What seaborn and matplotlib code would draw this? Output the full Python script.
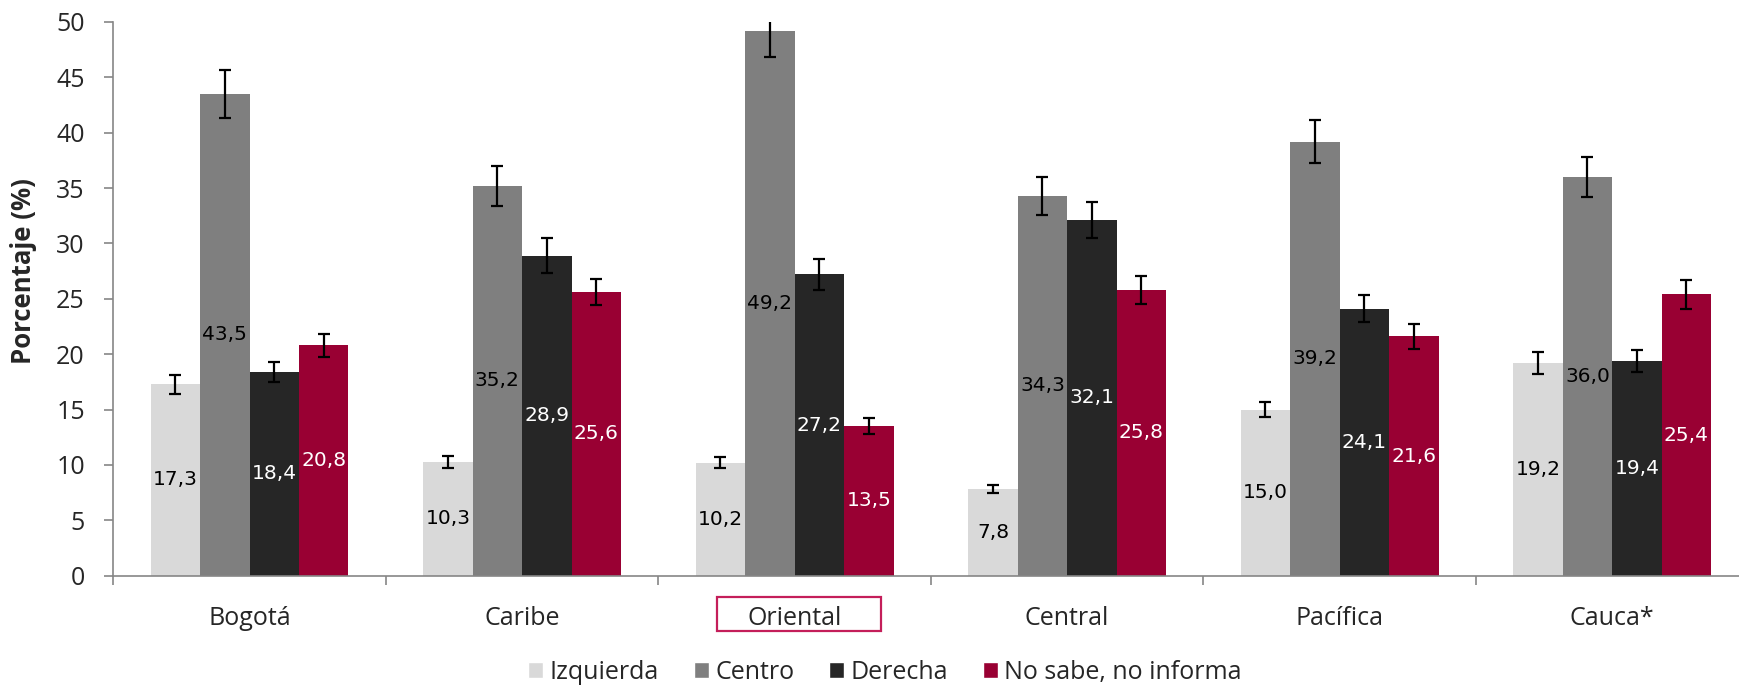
import matplotlib
matplotlib.use('Agg')
import matplotlib.pyplot as plt
import matplotlib.patches as mpatches
import matplotlib.transforms as mtransforms
import pandas as pd
import seaborn as sns

# datos
regiones = ['Bogotá', 'Caribe', 'Oriental', 'Central', 'Pacífica', 'Cauca*']
grupos = ['Izquierda', 'Centro', 'Derecha', 'No sabe, no informa']
izquierda = [17.3, 10.3, 10.2, 7.8, 15.0, 19.2]
centro = [43.5, 35.2, 49.2, 34.3, 39.2, 36.0]
derecha = [18.4, 28.9, 27.2, 32.1, 24.1, 19.4]
no_sabe = [20.8, 25.6, 13.5, 25.8, 21.6, 25.4]
err_izquierda = [0.85, 0.55, 0.52, 0.35, 0.7, 0.98]
err_centro = [2.2, 1.8, 2.4, 1.7, 1.97, 1.8]
err_derecha = [0.93, 1.6, 1.37, 1.6, 1.2, 0.98]
err_no_sabe = [1.03, 1.2, 0.7, 1.3, 1.1, 1.28]

colores = ['#D9D9D9', '#7F7F7F', '#262626', '#990033']
color_etiqueta = ['black', 'black', 'white', 'white']

valores = [izquierda, centro, derecha, no_sabe]
errores = [err_izquierda, err_centro, err_derecha, err_no_sabe]

df = pd.DataFrame({
    'region': regiones * 4,
    'grupo': [g for g in grupos for _ in regiones],
    'valor': [v for serie in valores for v in serie],
})

sns.set_style('white')
plt.rcParams['font.family'] = ['Open Sans', 'DejaVu Sans']

fig = plt.figure(figsize=(17.39, 6.86), dpi=100)
ax = fig.add_axes([0.06515, 0.1608, 0.9403, 0.8072])

sns.barplot(data=df, x='region', y='valor', hue='grupo', hue_order=grupos,
            palette=colores, width=0.726, gap=0, saturation=1,
            errorbar=None, legend=False, linewidth=0, edgecolor='none', ax=ax)

for cont, err, col in zip(ax.containers, errores, color_etiqueta):
    xs = [b.get_x() + b.get_width() / 2 for b in cont]
    ys = [b.get_height() for b in cont]
    ax.errorbar(xs, ys, yerr=err, fmt='none', ecolor='black',
                elinewidth=1.6, capsize=4.5, capthick=1.6, zorder=5)
    ax.bar_label(cont, labels=[f'{v:.1f}'.replace('.', ',') for v in ys],
                 label_type='center', color=col, fontsize=14.5,
                 family='DejaVu Sans')

ax.set_xlim(-0.5, 5.5)
ax.set_ylim(0, 50)
ax.set_yticks(range(0, 51, 5))
ax.set_xticks([i - 0.5 for i in range(7)], minor=True)
ax.set_xlabel('')
ax.set_ylabel('')

for s in ['top', 'right']:
    ax.spines[s].set_visible(False)
for s in ['left', 'bottom']:
    ax.spines[s].set_color('#868686')
    ax.spines[s].set_linewidth(1.2)

ax.tick_params(axis='y', which='major', left=True, length=6.5, width=1.2,
               color='#868686', labelsize=18, pad=14)
ax.tick_params(axis='x', which='major', bottom=False, labelsize=18, pad=18)
ax.tick_params(axis='x', which='minor', bottom=True, length=6.5, width=1.2,
               color='#868686')

fig.text(0.0135, 0.605, 'Porcentaje (%)', rotation=90, ha='center', va='center',
         fontsize=18.5, fontweight='bold')

# recuadro en Oriental
trans = mtransforms.blended_transform_factory(ax.transData, ax.transAxes)
ax.add_patch(mpatches.Rectangle((1.714, -0.0999), 0.602, 0.062, transform=trans,
                                fill=False, edgecolor='#C41E5A', linewidth=1.6,
                                clip_on=False))

handles = [mpatches.Patch(facecolor=c, label=g) for c, g in zip(colores, grupos)]
fig.legend(handles=handles, loc='center', bbox_to_anchor=(0.509, 0.02), ncol=4,
           frameon=False, fontsize=18, handlelength=0.6, handleheight=0.6,
           handletextpad=0.25, columnspacing=1.4, borderpad=0)

fig.savefig('out.png', dpi=100)
